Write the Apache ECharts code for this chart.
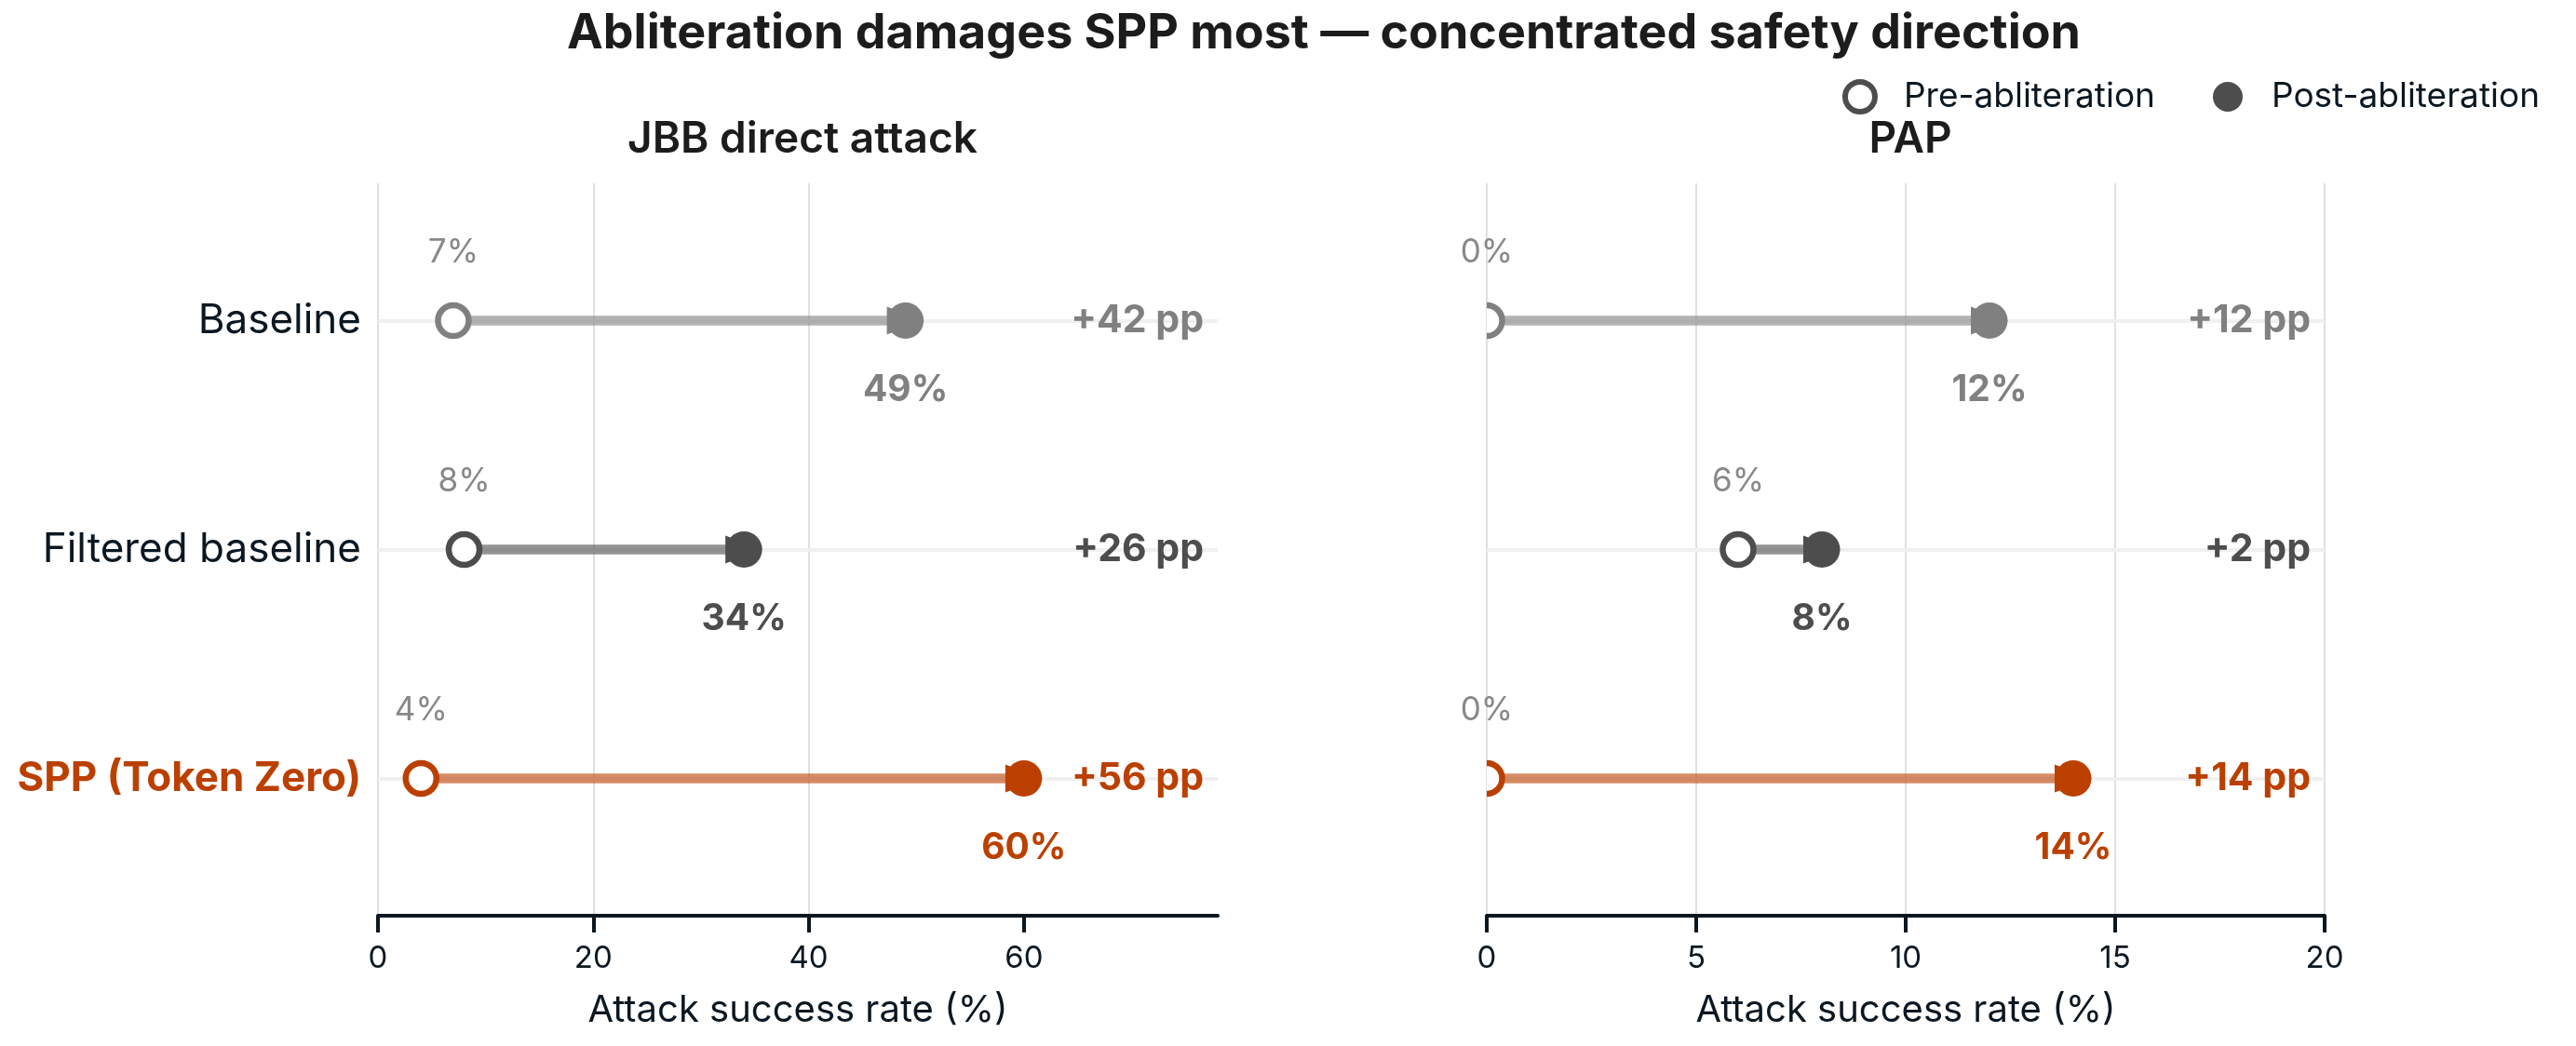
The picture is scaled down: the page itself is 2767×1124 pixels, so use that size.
<!DOCTYPE html>
<html>
<head>
<meta charset="utf-8">
<script src="https://cdn.jsdelivr.net/npm/echarts@6/dist/echarts.min.js"></script>
<style>
  html, body { margin: 0; padding: 0; background: #fff; }
  #chart { width: 2767px; height: 1124px; }
</style>
</head>
<body>
<div id="chart"></div>
<script>
// rows (top to bottom)
const rowNames = ['Baseline', 'Filtered baseline', 'SPP (Token Zero)']
const rowColors = ['#808080', '#4d4d4d', '#bb4000']
const rowLineColors = ['rgba(128,128,128,0.6)', 'rgba(77,77,77,0.6)', 'rgba(187,64,0,0.6)']

// panels
const panelTitles = ['JBB direct attack', 'PAP']
const jbbPre = [7, 8, 4]
const jbbPost = [49, 34, 60]
const papPre = [0, 6, 0]
const papPost = [12, 8, 14]

// axes
const jbbTicks = [0, 20, 40, 60]
const papTicks = [0, 5, 10, 15, 20]
const axisMax = [78, 20]
const axisStep = [20, 5]

const FONT = 'Inter'
const INK = '#0b1721'

const panels = [
  { pre: jbbPre, post: jbbPost, ticks: jbbTicks },
  { pre: papPre, post: papPost, ticks: papTicks }
]

var grids = [
  { left: 406, top: 197, width: 902, height: 787 },
  { left: 1597, top: 197, width: 900, height: 787 }
]

var xAxes = panels.map((p, i) => ({
  gridIndex: i,
  type: 'value',
  min: 0,
  max: axisMax[i],
  interval: axisStep[i],
  name: 'Attack success rate (%)',
  nameLocation: 'middle',
  nameGap: 82,
  nameTextStyle: { fontFamily: FONT, fontSize: 40, color: INK },
  axisLine: { show: true, onZero: false, lineStyle: { color: INK, width: 4 } },
  axisTick: { show: true, length: 18, customValues: p.ticks, lineStyle: { color: INK, width: 4 } },
  axisLabel: { customValues: p.ticks, fontFamily: FONT, fontSize: 33, color: INK, margin: 30 },
  splitLine: { show: true, showMaxLine: i === 1, lineStyle: { color: '#e0e0e0', width: 2 } }
}))

var yAxes = panels.map((p, i) => ({
  gridIndex: i,
  type: 'value',
  min: -0.6,
  max: 2.6,
  inverse: true,
  axisLine: { show: false, onZero: false },
  axisTick: { show: false },
  splitLine: { show: false },
  axisLabel: {
    show: i === 0,
    customValues: [0, 1, 2],
    margin: 18,
    fontFamily: FONT,
    fontSize: 44,
    color: INK,
    formatter: v => v === 2 ? '{spp|' + rowNames[v] + '}' : rowNames[v],
    rich: { spp: { fontFamily: FONT, fontSize: 44, fontWeight: 'bold', color: rowColors[2] } }
  }
}))

var series = []
panels.forEach((p, i) => {
  // row guides + connectors
  series.push({
    type: 'lines',
    coordinateSystem: 'cartesian2d',
    xAxisIndex: i,
    yAxisIndex: i,
    z: 3,
    symbol: 'none',
    silent: true,
    data: p.pre.map((v, r) => ({
      coords: [[v, r], [p.post[r], r]],
      lineStyle: { color: rowLineColors[r], width: 10.5, opacity: 1 }
    })),
    markLine: {
      silent: true,
      symbol: 'none',
      z: 1,
      label: { show: false },
      lineStyle: { color: '#f0f0f0', width: 4, type: 'solid' },
      data: rowNames.map((n, r) => ({ yAxis: r }))
    }
  })
  // arrow heads
  series.push({
    type: 'scatter',
    xAxisIndex: i,
    yAxisIndex: i,
    z: 4,
    silent: true,
    symbol: 'triangle',
    symbolRotate: -90,
    symbolSize: [30, 40],
    itemStyle: { opacity: 1 },
    data: p.post.map((v, r) => ({ value: [v, r], itemStyle: { color: rowColors[r] } }))
  })
  // pre markers (custom so they clip at the plot edge)
  series.push({
    name: 'Pre-abliteration',
    type: 'custom',
    xAxisIndex: i,
    yAxisIndex: i,
    z: 5,
    clip: true,
    silent: true,
    itemStyle: { color: '#fff', borderColor: '#4d4d4d' },
    renderItem: (params, api) => {
      const pt = api.coord([api.value(0), api.value(1)])
      return {
        type: 'circle',
        shape: { cx: pt[0], cy: pt[1], r: 16.5 },
        style: { fill: '#fff', stroke: rowColors[api.value(1)], lineWidth: 6.5 }
      }
    },
    encode: { x: 0, y: 1 },
    data: p.pre.map((v, r) => [v, r])
  })
  // pre labels
  series.push({
    type: 'scatter',
    xAxisIndex: i,
    yAxisIndex: i,
    z: 6,
    silent: true,
    symbolSize: 0,
    itemStyle: { opacity: 1 },
    label: {
      show: true,
      position: 'inside',
      offset: [0, -73],
      formatter: d => d.value[0] + '%',
      fontFamily: FONT,
      fontSize: 35,
      color: '#888888'
    },
    data: p.pre.map((v, r) => [v, r])
  })
  // post
  series.push({
    name: 'Post-abliteration',
    type: 'scatter',
    xAxisIndex: i,
    yAxisIndex: i,
    z: 6,
    symbol: 'circle',
    symbolSize: 39,
    itemStyle: { color: '#4d4d4d', opacity: 1 },
    label: {
      show: true,
      position: 'inside',
      offset: [0, 75],
      formatter: d => d.value[0] + '%',
      fontFamily: FONT,
      fontSize: 39,
      fontWeight: 'bold'
    },
    data: p.post.map((v, r) => ({
      value: [v, r],
      itemStyle: { color: rowColors[r] },
      label: { color: rowColors[r] }
    }))
  })
  // delta labels at right edge
  series.push({
    type: 'scatter',
    xAxisIndex: i,
    yAxisIndex: i,
    z: 6,
    silent: true,
    symbolSize: 0,
    itemStyle: { opacity: 1 },
    label: {
      show: true,
      position: 'inside',
      align: 'right',
      offset: [-15, 0],
      fontFamily: FONT,
      fontSize: 41,
      fontWeight: 'bold',
      formatter: d => '+' + (p.post[d.dataIndex] - p.pre[d.dataIndex]) + ' pp'
    },
    data: p.post.map((v, r) => ({
      value: [axisMax[i], r],
      label: { color: rowColors[r] }
    }))
  })
})

var chart = echarts.init(document.getElementById('chart'), null, { renderer: 'canvas' })
chart.setOption({
  backgroundColor: '#fff',
  animation: false,
  title: [
    {
      text: 'Abliteration damages SPP most — concentrated safety direction',
      left: 1417, top: 5, textAlign: 'center',
      textStyle: { fontFamily: FONT, fontSize: 52, fontWeight: 'bold', color: '#1c1c1c' }
    },
    {
      text: panelTitles[0], left: 857, top: 122, textAlign: 'center',
      textStyle: { fontFamily: FONT, fontSize: 46, fontWeight: 600, color: '#1c1c1c' }
    },
    {
      text: panelTitles[1], left: 2047, top: 122, textAlign: 'center',
      textStyle: { fontFamily: FONT, fontSize: 46, fontWeight: 600, color: '#1c1c1c' }
    }
  ],
  legend: {
    right: 34,
    top: 80,
    itemWidth: 32,
    itemHeight: 32,
    itemGap: 62,
    selectedMode: false,
    textStyle: { fontFamily: FONT, fontSize: 37, color: INK, padding: [0, 0, 0, 26] },
    data: [
      { name: 'Pre-abliteration', icon: 'circle', itemStyle: { color: '#fff', borderColor: '#4d4d4d', borderWidth: 6 } },
      { name: 'Post-abliteration', icon: 'circle', itemStyle: { color: '#4d4d4d', borderWidth: 0 } }
    ]
  },
  grid: grids,
  xAxis: xAxes,
  yAxis: yAxes,
  series: series
})
</script>
</body>
</html>
